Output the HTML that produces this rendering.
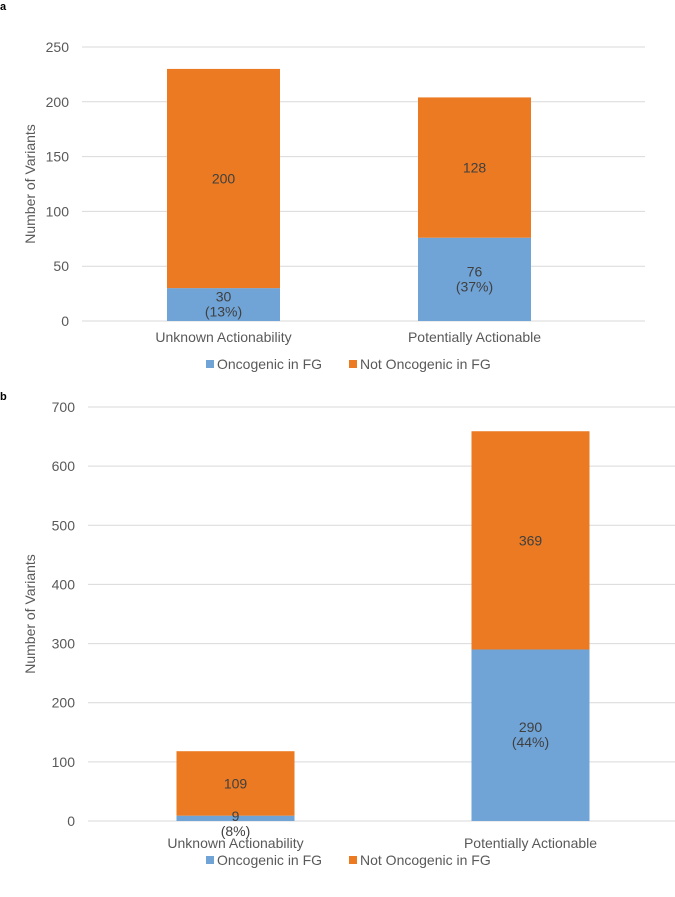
<!DOCTYPE html>
<html><head><meta charset="utf-8"><style>
html,body{margin:0;padding:0;background:#fff;}
svg{display:block;font-family:"Liberation Sans",sans-serif;}
</style></head><body>
<svg id="chart" width="675" height="897">
<text x="0" y="10" font-size="11" font-weight="bold">a</text>
<text x="0" y="400" font-size="11" font-weight="bold">b</text>
</svg>
<script>
const categories = ["Unknown Actionability", "Potentially Actionable"];
const aOnco = [30, 76];
const aNot = [200, 128];
const aPct = ["(13%)", "(37%)"];
const aTicks = [0, 50, 100, 150, 200, 250];
const bOnco = [9, 290];
const bNot = [109, 369];
const bPct = ["(8%)", "(44%)"];
const bTicks = [0, 100, 200, 300, 400, 500, 600, 700];

const NS = "http://www.w3.org/2000/svg";
const svg = document.getElementById("chart");
function mk(tag, attrs, parent) {
  const e = document.createElementNS(NS, tag);
  for (const k in attrs) e.setAttribute(k, attrs[k]);
  (parent || svg).appendChild(e);
  return e;
}
function panel(p, onco, not, pct, ticks, key, lowLabel) {
  const g = mk("g", {});
  
  
  const max = ticks[ticks.length - 1];
  const y = v => p.y0 - (v / max) * (p.y0 - p.yTop);
  const catW = (p.c1 - p.c0) / categories.length;
  const cx = i => p.c0 + catW * (i + 0.5);
  const bw = p.bw;
  ticks.forEach(t => {
    const l = mk("line", {x1: p.x0, x2: p.x1, y1: y(t), y2: y(t), stroke: "#d9d9d9", "stroke-width": 1}, g);
    
    
    const tx = mk("text", {x: p.x0 - 13, y: y(t) + 5, "text-anchor": "end", "font-size": 14, fill: "#595959"}, g);
    tx.textContent = t;
    
    
  });
  const yt = mk("text", {x: 0, y: 0, transform: `translate(${p.ytx},${(p.y0 + p.yTop) / 2}) rotate(-90)`, "text-anchor": "middle", "font-size": 14, fill: "#595959"}, g);
  yt.textContent = "Number of Variants";
  
  
  categories.forEach((c, i) => {
    const x = cx(i) - bw / 2;
    const r1 = mk("rect", {x: x, y: y(onco[i]), width: bw, height: y(0) - y(onco[i]), fill: "#70a3d6"}, g);
    
    
    const r2 = mk("rect", {x: x, y: y(onco[i] + not[i]), width: bw, height: y(onco[i]) - y(onco[i] + not[i]), fill: "#eb7a22"}, g);
    
    
    const mNot = (y(onco[i]) + y(onco[i] + not[i])) / 2;
    const t2 = mk("text", {x: cx(i), y: mNot + 5, "text-anchor": "middle", "font-size": 14, fill: "#404040"}, g);
    t2.textContent = not[i];
    
    
    let m = (y(0) + y(onco[i])) / 2;
    if (lowLabel && (y(0) - y(onco[i])) < 30) m = y(0) + 3;
    const t1 = mk("text", {x: cx(i), y: m - 3, "text-anchor": "middle", "font-size": 14, fill: "#404040"}, g);
    t1.textContent = onco[i];
    
    
    const t3 = mk("text", {x: cx(i), y: m + 12, "text-anchor": "middle", "font-size": 14, fill: "#404040"}, g);
    t3.textContent = pct[i];
    
    
    const cl = mk("text", {x: cx(i), y: p.catY, "text-anchor": "middle", "font-size": 14, fill: "#595959"}, g);
    cl.textContent = c;
    
    
  });
  const lg = mk("g", {}, g);
  
  
  const items = [["Oncogenic in FG", "#70a3d6", p.lx], ["Not Oncogenic in FG", "#eb7a22", p.lx + 143]];
  items.forEach(it => {
    const r = mk("rect", {x: it[2], y: p.ly - 9, width: 8, height: 8, fill: it[1]}, lg);
    
    
    const t = mk("text", {x: it[2] + 11, y: p.ly, "font-size": 14, fill: "#595959"}, lg);
    t.textContent = it[0];
    
    
  });
}
panel({x0: 82, x1: 645, c0: 98, c1: 600, y0: 321, yTop: 47, bw: 113, ytx: 35, catY: 342, lx: 206, ly: 369}, aOnco, aNot, aPct, aTicks, "panel-a", false);
panel({x0: 88, x1: 678, c0: 88, c1: 678, y0: 821, yTop: 407, bw: 118, ytx: 35, catY: 848, lx: 206, ly: 865}, bOnco, bNot, bPct, bTicks, "panel-b", true);
</script>
</body></html>
